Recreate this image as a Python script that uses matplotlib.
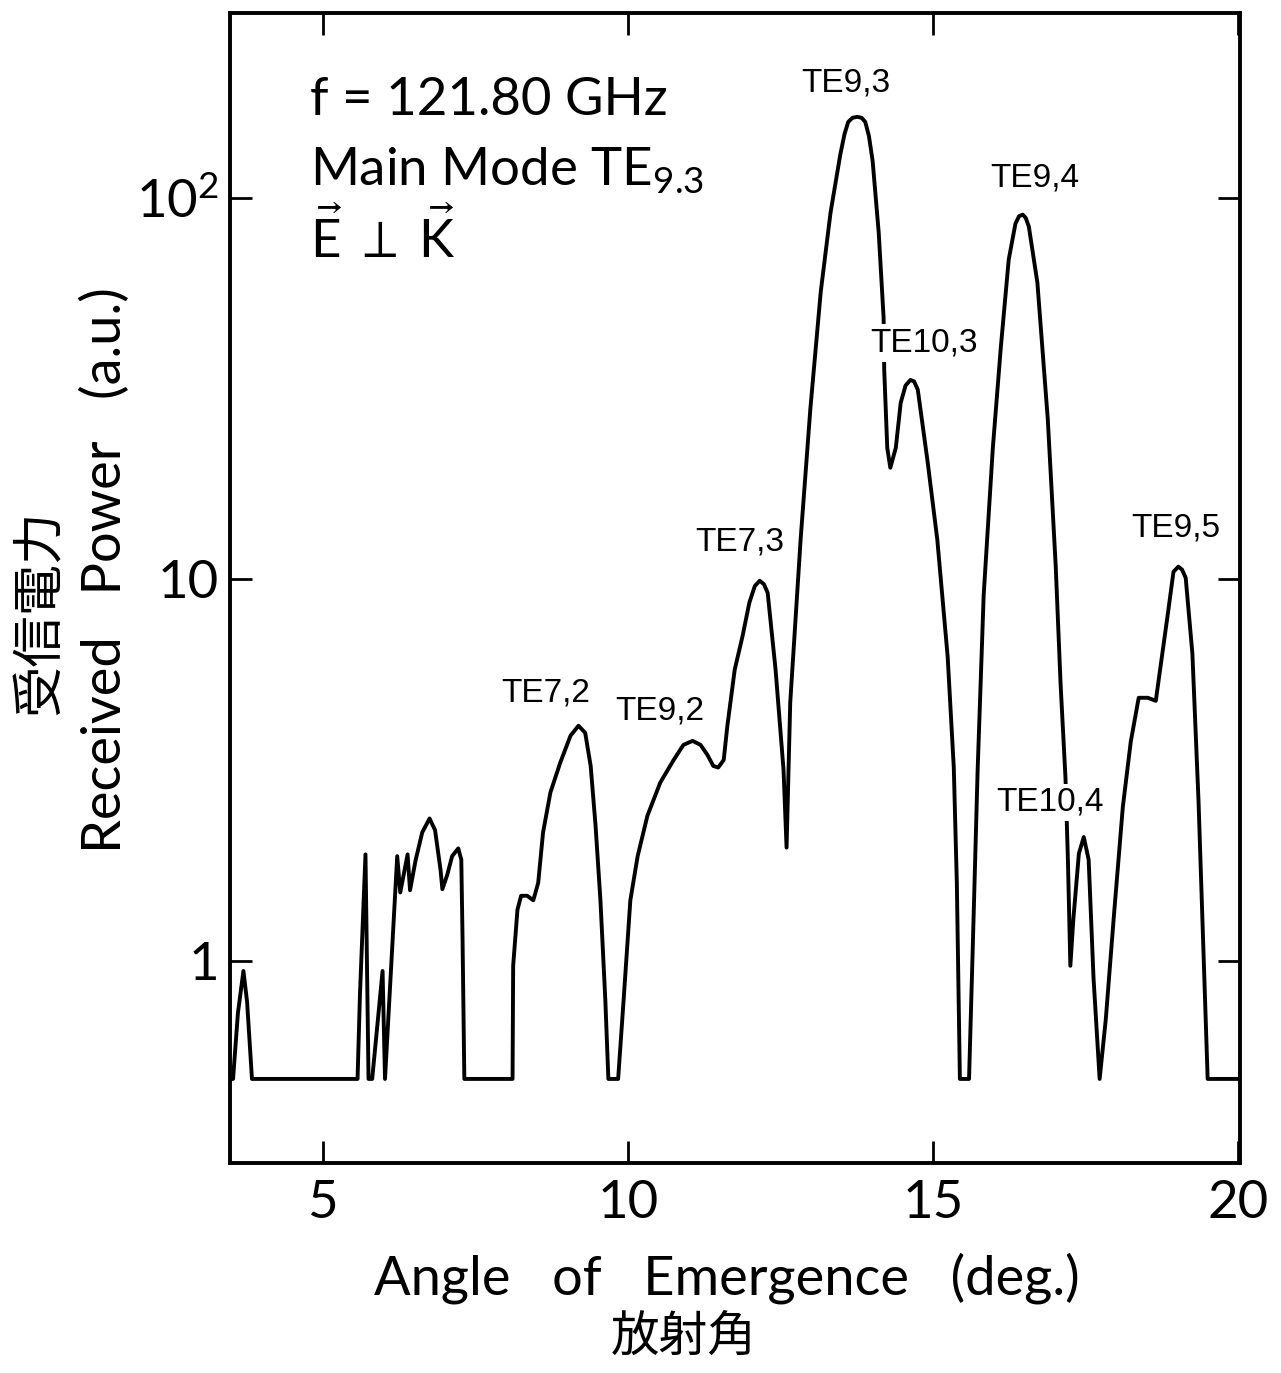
import matplotlib
matplotlib.use("Agg")
import matplotlib.pyplot as plt
from matplotlib.ticker import NullLocator

# ---------------- data ----------------
angle_deg = [3.48, 3.53, 3.61, 3.70, 3.76, 3.84,
             5.57, 5.61, 5.70, 5.75, 5.81, 5.98, 6.02,
             6.22, 6.27, 6.39, 6.43, 6.52, 6.63, 6.75, 6.84, 6.93, 6.96, 7.04, 7.12, 7.22, 7.27, 7.29, 7.32,
             8.11, 8.12, 8.19, 8.25, 8.35, 8.45, 8.53, 8.61, 8.73, 8.89, 9.06, 9.19, 9.30, 9.39, 9.47, 9.55, 9.63, 9.68,
             9.84, 9.93, 10.04, 10.16, 10.32, 10.53, 10.75, 10.91, 11.06, 11.19, 11.30, 11.40, 11.48, 11.57, 11.63,
             11.75, 11.88, 11.99, 12.08, 12.16, 12.23, 12.29, 12.42, 12.55, 12.60,
             12.66, 12.83, 12.99, 13.16, 13.32, 13.48, 13.55, 13.61, 13.68, 13.76, 13.83, 13.89, 13.95, 14.01, 14.11,
             14.19, 14.20, 14.25, 14.30, 14.39, 14.47, 14.55, 14.63, 14.69, 14.75, 14.91, 15.07, 15.24, 15.34, 15.39,
             15.42, 15.44,
             15.59, 15.65, 15.73, 15.83, 15.98, 16.11, 16.24, 16.35, 16.41, 16.47, 16.52, 16.57, 16.71, 16.88, 17.01,
             17.09, 17.17, 17.21, 17.25, 17.30, 17.39, 17.47, 17.55, 17.63, 17.73, 17.83, 17.96, 18.11, 18.24, 18.37,
             18.52, 18.65, 18.73, 18.85, 18.94, 19.02, 19.08, 19.14, 19.25, 19.35, 19.43, 19.50, 20.04]

power_au = [0.49, 0.49, 0.73, 0.94, 0.78, 0.49,
            0.49, 0.82, 1.90, 0.49, 0.49, 0.94, 0.49,
            1.88, 1.51, 1.90, 1.53, 1.83, 2.17, 2.36, 2.20, 1.73, 1.54, 1.68, 1.88, 1.97, 1.84, 1.16, 0.49,
            0.49, 0.97, 1.36, 1.48, 1.48, 1.44, 1.60, 2.17, 2.76, 3.30, 3.89, 4.13, 3.96, 3.24, 2.26, 1.44, 0.79, 0.49,
            0.49, 0.79, 1.44, 1.88, 2.40, 2.93, 3.36, 3.68, 3.77, 3.68, 3.47, 3.24, 3.21, 3.36, 4.13,
            5.79, 7.11, 8.68, 9.6, 9.91, 9.7, 9.22, 5.79, 3.17, 1.98,
            4.75, 12.7, 28.0, 56.7, 91.3, 129.7, 147, 158, 162, 163, 162, 158, 145, 125, 81,
            48.5, 35.4, 22.1, 19.6, 22.1, 29.0, 32.2, 33.3, 33.0, 31.4, 20.4, 12.7, 6.26, 3.21, 1.60,
            0.78, 0.49,
            0.49, 1.07, 3.13, 9.1, 22.1, 40.4, 68.8, 85.5, 89.5, 90.3, 88.5, 84.0, 59.9, 26.3, 10.85,
            5.32, 3.02, 1.84, 0.97, 1.29, 1.91, 2.11, 1.84, 0.90, 0.49, 0.70, 1.29, 2.53, 3.75, 4.89,
            4.89, 4.80, 5.93, 8.17, 10.46, 10.79, 10.6, 10.09, 6.38, 2.63, 1.07, 0.49, 0.49]

mode_names = ["TE9,3", "TE9,4", "TE10,3", "TE7,3", "TE9,5", "TE7,2", "TE9,2", "TE10,4"]
mode_x = [13.57, 16.66, 14.86, 11.84, 18.98, 8.65, 10.53, 16.91]
mode_y = [200, 113, 41.7, 12.5, 13.6, 5.04, 4.52, 2.60]

x_ticks = [5, 10, 15, 20]
x_ticklabels = ["5", "10", "15", "20"]
y_ticks = [1, 10, 100]
y_ticklabels = ["1", "10", r"$10^2$"]

# ---------------- styling ----------------
FONT = "Lato"
plt.rcParams["font.family"] = [FONT, "DejaVu Sans"]
plt.rcParams["mathtext.fontset"] = "custom"
plt.rcParams["mathtext.rm"] = FONT
plt.rcParams["mathtext.it"] = FONT
plt.rcParams["mathtext.bf"] = FONT
plt.rcParams["mathtext.fallback"] = "stixsans"

W, H = 1281, 1373
fig = plt.figure(figsize=(W / 100, H / 100), dpi=100)
ax = fig.add_axes([230 / W, 1 - 1163 / H, (1240 - 230) / W, (1163 - 13) / H])

ax.plot(angle_deg, power_au, color="black", lw=2.8, solid_joinstyle="round",
        solid_capstyle="round", zorder=2)

ax.set_yscale("log")
ax.set_xlim(3.48, 20.03)
ax.set_ylim(0.295, 305)

ax.set_xticks(x_ticks)
ax.set_xticklabels(x_ticklabels)
ax.set_yticks(y_ticks)
ax.set_yticklabels(y_ticklabels)
ax.yaxis.set_minor_locator(NullLocator())
ax.xaxis.set_minor_locator(NullLocator())

ax.tick_params(axis="both", direction="in", length=16, width=2,
               top=True, right=True, labelsize=38, colors="black")
ax.tick_params(axis="x", pad=12)
ax.tick_params(axis="y", pad=8)
for s in ax.spines.values():
    s.set_linewidth(2.8)

# mode labels
for name, mx, my in zip(mode_names, mode_x, mode_y):
    ax.text(mx, my, name, ha="center", va="center", fontsize=24,
            family=["Liberation Sans", "DejaVu Sans"], zorder=3,
            bbox=dict(boxstyle="square,pad=0.1", fc="white", ec="none"))

# condition text block
tkw = dict(transform=ax.transAxes, ha="left", va="baseline", fontsize=38)
ax.text(0.079, 0.911, "f = 121.80 GHz", **tkw)
ax.text(0.079, 0.850, r"Main Mode TE$_{9.3}$", **tkw)
ax.text(0.079, 0.787, r"$\vec{\mathrm{E}}\;\perp\;\vec{\mathrm{K}}$", **tkw)

# axis labels
fig.text(40 / W, 1 - 612 / H, "受信電力", rotation=90, ha="center", va="center",
         fontsize=37, family=["Noto Sans CJK JP", "DejaVu Sans"])
fig.text(105 / W, 1 - 570 / H, "Received   Power   (a.u.)", rotation=90, ha="center",
         va="center", fontsize=39)
fig.text(727 / W, 1 - 1278 / H, "Angle   of   Emergence   (deg.)", ha="center", va="center",
         fontsize=39)
fig.text(684 / W, 1 - 1337 / H, "放射角", ha="center", va="center", fontsize=35,
         family=["Noto Sans CJK JP", "DejaVu Sans"])

fig.savefig("out.png", dpi=100, facecolor="white")
